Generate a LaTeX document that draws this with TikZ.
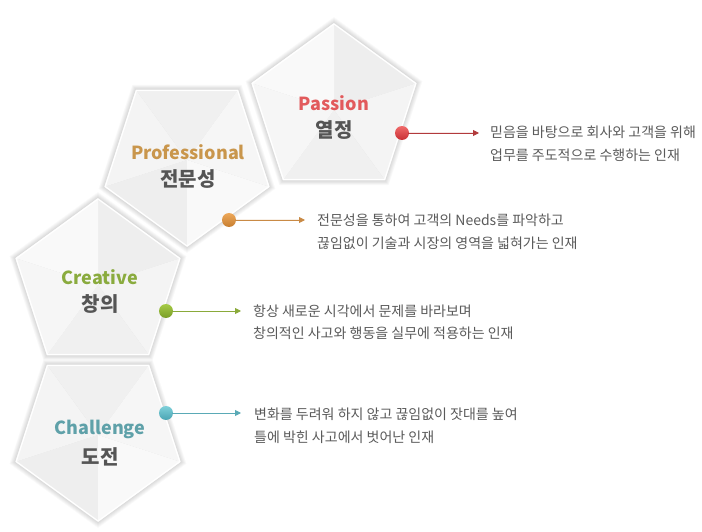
\documentclass[tikz,border=0pt]{standalone}
\usepackage{fontspec}
\setmainfont{Noto Sans CJK KR}
\usetikzlibrary{arrows.meta}
\definecolor{passionC}{HTML}{E25A5C}
\definecolor{profC}{HTML}{C9964C}
\definecolor{creaC}{HTML}{8AAB3E}
\definecolor{chalC}{HTML}{5FA1A9}
\definecolor{passionL}{HTML}{F06A6A}
\definecolor{passionD}{HTML}{C82F33}
\definecolor{profL}{HTML}{EDA85A}
\definecolor{profD}{HTML}{C77E30}
\definecolor{creaL}{HTML}{A5CA45}
\definecolor{creaD}{HTML}{7A9E28}
\definecolor{chalL}{HTML}{7FD0DA}
\definecolor{chalD}{HTML}{4AA5B3}
\definecolor{passionLine}{HTML}{B23A3C}
\definecolor{profLine}{HTML}{C98A45}
\definecolor{creaLine}{HTML}{8AAA3A}
\definecolor{chalLine}{HTML}{5AAAB6}
\definecolor{descC}{HTML}{5A5A5A}
\definecolor{nameC}{HTML}{555555}
\definecolor{fA}{HTML}{EEEEEE}
\definecolor{fB}{HTML}{F4F4F4}
\definecolor{fC}{HTML}{F0F0F0}
\definecolor{fD}{HTML}{F6F6F6}
\definecolor{fE}{HTML}{F9F9F9}
\tikzset{
  pentagon/.pic={
    \foreach \k in {6,5,...,1}{
      \fill[black,opacity=0.022] ({270}:{87+\k}) -- ({342}:{87+\k}) -- ({54}:{87+\k}) -- ({126}:{87+\k}) -- ({198}:{87+\k}) -- cycle;
    }
    \fill[fA] (0,0) -- (270:87) -- (342:87) -- cycle;
    \fill[fB] (0,0) -- (342:87) -- (54:87) -- cycle;
    \fill[fC] (0,0) -- (54:87) -- (126:87) -- cycle;
    \fill[fD] (0,0) -- (126:87) -- (198:87) -- cycle;
    \fill[fE] (0,0) -- (198:87) -- (270:87) -- cycle;
    \draw[white,line width=1.2pt,line join=round] (270:86) -- (342:86) -- (54:86) -- (126:86) -- (198:86) -- cycle;
  },
  titletext/.style={font=\fontsize{18}{20}\selectfont\bfseries, inner sep=0pt},
  nametext/.style={font=\fontsize{20}{22}\selectfont\bfseries, text=nameC, inner sep=0pt},
  desc/.style={font=\fontsize{14}{22.5}\selectfont, text=descC, align=left, inner sep=0pt, anchor=west},
  dot/.style={circle, minimum size=14pt, inner sep=0pt},
  conn/.style={line width=0.9pt, -{Triangle[length=6pt,width=6pt]}, shorten <=-1pt}
}
\begin{document}
\begin{tikzpicture}[x=1pt,y=-1pt]
\useasboundingbox[fill=white] (0,0) rectangle (702,532);
% pentagons
\pic at (334,110) {pentagon};
\pic[rotate=180] at (187,160) {pentagon};
\pic at (98,285) {pentagon};
\pic[rotate=180] at (98,435) {pentagon};
% titles
\node[titletext, text=passionC] (tPassion) at (334,103) {Passion};
\node[nametext] (kPassion) at (334,130) {열정};
\node[titletext, text=profC] (tProf) at (188,152) {Professional};
\node[nametext] (kProf) at (188,179) {전문성};
\node[titletext, text=creaC] (tCrea) at (100,277) {Creative};
\node[nametext] (kCrea) at (100,304) {창의};
\node[titletext, text=chalC] (tChal) at (100,429) {Challenge};
\node[nametext] (kChal) at (100,457) {도전};
% dots
\node[dot, top color=passionL, bottom color=passionD] (cPassion) at (402,133) {};
\node[dot, top color=profL, bottom color=profD] (cProf) at (229,220) {};
\node[dot, top color=creaL, bottom color=creaD] (cCrea) at (166,311) {};
\node[dot, top color=chalL, bottom color=chalD] (cChal) at (166,413) {};
% arrow ends
\coordinate (ePassion) at (479,133);
\coordinate (eProf) at (305,220);
\coordinate (eCrea) at (241,311);
\coordinate (eChal) at (241,413);
\draw[conn, draw=passionLine, fill=passionLine] (cPassion) -- (ePassion);
\draw[conn, draw=profLine, fill=profLine] (cProf) -- (eProf);
\draw[conn, draw=creaLine, fill=creaLine] (cCrea) -- (eCrea);
\draw[conn, draw=chalLine, fill=chalLine] (cChal) -- (eChal);
% descriptions
\node[desc] (dPassion) at (490,144) {믿음을 바탕으로 회사와 고객을 위해\\업무를 주도적으로 수행하는 인재};
\node[desc] (dProf) at (317,232) {전문성을 통하여 고객의 Needs를 파악하고\\끊임없이 기술과 시장의 영역을 넓혀가는 인재};
\node[desc] (dCrea) at (253,322) {항상 새로운 시각에서 문제를 바라보며\\창의적인 사고와 행동을 실무에 적용하는 인재};
\node[desc] (dChal) at (254,426) {변화를 두려워 하지 않고 끊임없이 잣대를 높여\\틀에 박힌 사고에서 벗어난 인재};
\end{tikzpicture}
\end{document}
